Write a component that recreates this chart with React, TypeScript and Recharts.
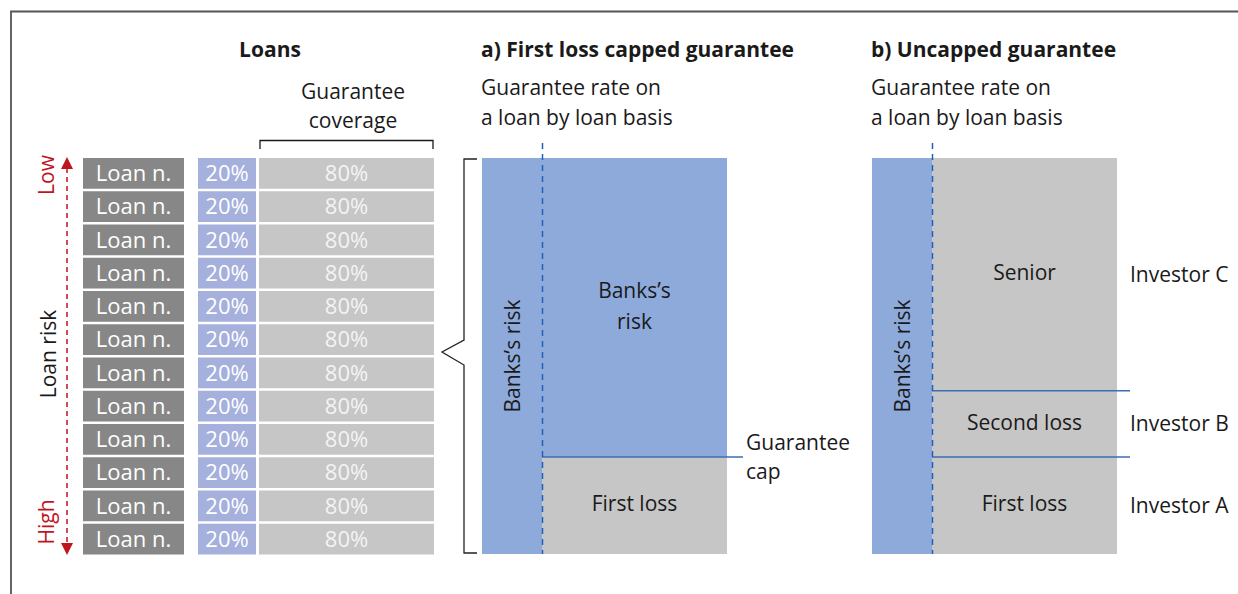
import React from 'react';
import { BarChart, Bar, XAxis, YAxis, LabelList, ReferenceLine } from 'recharts';

const FONT = '"Open Sans", "Noto Sans", sans-serif';
const FS = 21;
const FS_ROW = 22;

// ---- data ----
const loanIds = ['L01', 'L02', 'L03', 'L04', 'L05', 'L06', 'L07', 'L08', 'L09', 'L10', 'L11', 'L12'];
const loanLabels = ['Loan n.', 'Loan n.', 'Loan n.', 'Loan n.', 'Loan n.', 'Loan n.', 'Loan n.', 'Loan n.', 'Loan n.', 'Loan n.', 'Loan n.', 'Loan n.'];
const bankShare = [20, 20, 20, 20, 20, 20, 20, 20, 20, 20, 20, 20];
const guaranteeShare = [80, 80, 80, 80, 80, 80, 80, 80, 80, 80, 80, 80];

const bankColumnLabel = 'Banks’s risk';
const bankColumnValue = 100;

const trancheANames = ['First loss', 'Banks’s\nrisk'];
const trancheAValues = [24.5, 75.5];
const capLabel = 'Guarantee\ncap';

const trancheBNames = ['First loss', 'Second loss', 'Senior'];
const trancheBValues = [24.5, 16.7, 58.8];
const investorNames = ['Investor A', 'Investor B', 'Investor C'];

// ---- colours ----
const C_LOAN = '#878787';
const C_BANK20 = '#a5b0dc';
const C_GREY = '#c6c6c6';
const C_BLUE = '#8eaadb';
const C_LINE = '#3d6db4';
const C_DASH = '#2160b8';
const C_RED = '#c0141e';
const C_TEXT = '#1a1a1a';

const loanData = loanIds.map((id, i) => ({
  id,
  label: loanLabels[i],
  bank: bankShare[i],
  guar: guaranteeShare[i],
  total: bankShare[i] + guaranteeShare[i],
}));

const bankData = [{ name: 'bank', value: bankColumnValue, label: bankColumnLabel }];
const panelAData = [{ name: 'a', t0: trancheAValues[0], t1: trancheAValues[1], n0: trancheANames[0], n1: trancheANames[1] }];
const panelBData = [{
  name: 'b',
  t0: trancheBValues[0], t1: trancheBValues[1], t2: trancheBValues[2],
  n0: trancheBNames[0], n1: trancheBNames[1], n2: trancheBNames[2],
  i0: investorNames[0], i1: investorNames[1], i2: investorNames[2],
}];

const ROW_TOP = 156.75;
const ROW_H = 399;
const BAR_H = 30.75;
const COL_TOP = 158;
const COL_H = 396;

const MultiLine = (props: any) => {
  const vb = props.viewBox ?? props;
  const { x, y, width, height } = vb;
  const lines = String(props.value).split('\n');
  const cx = x + width / 2;
  const cy = y + height / 2 - 2;
  const lh = 31;
  return (
    <text x={cx} y={cy - ((lines.length - 1) * lh) / 2} textAnchor="middle" dominantBaseline="central"
      fontFamily={FONT} fontSize={FS} fill={C_TEXT}>
      {lines.map((l, i) => (
        <tspan key={i} x={cx} dy={i === 0 ? 0 : lh}>{l}</tspan>
      ))}
    </text>
  );
};

const Rotated = (props: any) => {
  const vb = props.viewBox ?? props;
  const { x, y, width, height } = vb;
  const cx = x + width / 2;
  const cy = y + height / 2;
  return (
    <text x={cx} y={cy} textAnchor="middle" dominantBaseline="central" transform={`rotate(-90, ${cx}, ${cy})`}
      fontFamily={FONT} fontSize={FS} fill={C_TEXT}>
      {props.value}
    </text>
  );
};

const CapLabel = (props: any) => {
  const vb = props.viewBox;
  const x = vb.x + vb.width + 3;
  const y = vb.y;
  const lines = capLabel.split('\n');
  return (
    <text x={x} y={y - 15} dominantBaseline="central" fontFamily={FONT} fontSize={FS} fill={C_TEXT}>
      {lines.map((l, i) => (
        <tspan key={i} x={x} dy={i === 0 ? 0 : 29}>{l}</tspan>
      ))}
    </text>
  );
};

const abs = (left: number, top: number): React.CSSProperties => ({ position: 'absolute', left, top });
const M0 = { top: 0, right: 0, bottom: 0, left: 0 };

function LoanColumn({ left, width, dataKey, max, fill, labelKey, fmt, labelFill }: any) {
  return (
    <div style={abs(left, ROW_TOP)}>
      <BarChart layout="vertical" width={width} height={ROW_H} data={loanData} margin={M0}>
        <XAxis type="number" domain={[0, max]} hide />
        <YAxis type="category" dataKey="id" hide />
        <Bar dataKey={dataKey} fill={fill} barSize={BAR_H} isAnimationActive={false}>
          <LabelList dataKey={labelKey} position="center" fill={labelFill} fontSize={FS_ROW} fontFamily={FONT} formatter={fmt} />
        </Bar>
      </BarChart>
    </div>
  );
}

function BankColumn({ left }: { left: number }) {
  return (
    <div style={abs(left, COL_TOP)}>
      <BarChart width={60} height={COL_H} data={bankData} margin={M0} barCategoryGap={0}>
        <XAxis dataKey="name" hide />
        <YAxis domain={[0, 100]} hide />
        <Bar dataKey="value" fill={C_BLUE} isAnimationActive={false}>
          <LabelList dataKey="label" content={Rotated} />
        </Bar>
      </BarChart>
    </div>
  );
}

export default function App() {
  return (
    <div style={{ position: 'absolute', left: 0, top: 0, width: 1238, height: 594, background: '#fff', overflow: 'hidden' }}>
      {/* Loans table */}
      <LoanColumn left={83} width={101} dataKey="total" max={100} fill={C_LOAN} labelKey="label" labelFill="#ffffff" />
      <LoanColumn left={198} width={58} dataKey="bank" max={20} fill={C_BANK20} labelKey="bank" labelFill="#ffffff" fmt={(v: any) => `${v}%`} />
      <LoanColumn left={259} width={175} dataKey="guar" max={80} fill={C_GREY} labelKey="guar" labelFill="#f4f4f4" fmt={(v: any) => `${v}%`} />

      {/* Panel a */}
      <BankColumn left={482} />
      <div style={abs(542, COL_TOP)}>
        <BarChart width={318} height={COL_H} data={panelAData} margin={{ top: 0, right: 117, bottom: 0, left: 0 }} barCategoryGap={0}>
          <XAxis dataKey="name" hide padding={{ left: 0, right: 16 }} />
          <YAxis domain={[0, 100]} hide />
          <Bar dataKey="t0" stackId="s" fill={C_GREY} isAnimationActive={false}>
            <LabelList dataKey="n0" content={MultiLine} />
          </Bar>
          <Bar dataKey="t1" stackId="s" fill={C_BLUE} isAnimationActive={false}>
            <LabelList dataKey="n1" content={MultiLine} />
          </Bar>
          <ReferenceLine y={trancheAValues[0]} stroke={C_LINE} strokeWidth={1.5} label={CapLabel} />
        </BarChart>
      </div>

      {/* Panel b */}
      <BankColumn left={872} />
      <div style={abs(932, COL_TOP)}>
        <BarChart width={306} height={COL_H} data={panelBData} margin={{ top: 0, right: 108, bottom: 0, left: 0 }} barCategoryGap={0}>
          <XAxis dataKey="name" hide padding={{ left: 0, right: 13 }} />
          <YAxis domain={[0, 100]} hide />
          <Bar dataKey="t0" stackId="s" fill={C_GREY} isAnimationActive={false}>
            <LabelList dataKey="n0" content={MultiLine} />
            <LabelList dataKey="i0" position="right" offset={13} fill={C_TEXT} fontSize={FS} fontFamily={FONT} />
          </Bar>
          <Bar dataKey="t1" stackId="s" fill={C_GREY} isAnimationActive={false}>
            <LabelList dataKey="n1" content={MultiLine} />
            <LabelList dataKey="i1" position="right" offset={13} fill={C_TEXT} fontSize={FS} fontFamily={FONT} />
          </Bar>
          <Bar dataKey="t2" stackId="s" fill={C_GREY} isAnimationActive={false}>
            <LabelList dataKey="n2" content={MultiLine} />
            <LabelList dataKey="i2" position="right" offset={13} fill={C_TEXT} fontSize={FS} fontFamily={FONT} />
          </Bar>
          <ReferenceLine y={trancheBValues[0]} stroke={C_LINE} strokeWidth={1.5} />
          <ReferenceLine y={trancheBValues[0] + trancheBValues[1]} stroke={C_LINE} strokeWidth={1.5} />
        </BarChart>
      </div>

      {/* annotations */}
      <svg width={1238} height={594} style={{ position: 'absolute', left: 0, top: 0, pointerEvents: 'none' }}
        fontFamily={FONT}>
        <path d="M 11 594 L 11 11.5 L 1238 11.5" fill="none" stroke="#555" strokeWidth={1.8} />

        <text x={270} y={57} textAnchor="middle" fontSize={FS} fontWeight={700} fill={C_TEXT}>Loans</text>
        <text x={353} y={99} textAnchor="middle" fontSize={FS} fill={C_TEXT}>Guarantee</text>
        <text x={353} y={128} textAnchor="middle" fontSize={FS} fill={C_TEXT}>coverage</text>
        <path d="M 260 149 L 260 140.5 L 433 140.5 L 433 149" fill="none" stroke={C_TEXT} strokeWidth={1.3} />

        {/* loan risk axis */}
        <line x1={67} y1={168} x2={67} y2={543} stroke={C_RED} strokeWidth={1.5} strokeDasharray="5 4" />
        <polygon points="67,157 61,169 73,169" fill={C_RED} />
        <polygon points="67,555 61,543 73,543" fill={C_RED} />
        <text x={46} y={175} textAnchor="middle" dominantBaseline="central" transform="rotate(-90, 46, 175)" fontSize={FS} fill={C_RED}>Low</text>
        <text x={46} y={522} textAnchor="middle" dominantBaseline="central" transform="rotate(-90, 46, 522)" fontSize={FS} fill={C_RED}>High</text>
        <text x={48} y={354} textAnchor="middle" dominantBaseline="central" transform="rotate(-90, 48, 354)" fontSize={FS} fill={C_TEXT}>Loan risk</text>

        {/* brace */}
        <path d="M 477 159 L 464 159 L 464 340 L 442 352 L 464 365 L 464 553 L 477 553" fill="none" stroke="#222" strokeWidth={1.3} />

        {/* panel a headings */}
        <text x={481} y={57} fontSize={FS} fontWeight={700} fill={C_TEXT}>a) First loss capped guarantee</text>
        <text x={481} y={95} fontSize={FS} fill={C_TEXT}>Guarantee rate on</text>
        <text x={481} y={125} fontSize={FS} fill={C_TEXT}>a loan by loan basis</text>
        <line x1={542.5} y1={143} x2={542.5} y2={554} stroke={C_DASH} strokeWidth={1.5} strokeDasharray="6 5" />

        {/* panel b headings */}
        <text x={871} y={57} fontSize={FS} fontWeight={700} fill={C_TEXT}>b) Uncapped guarantee</text>
        <text x={871} y={95} fontSize={FS} fill={C_TEXT}>Guarantee rate on</text>
        <text x={871} y={125} fontSize={FS} fill={C_TEXT}>a loan by loan basis</text>
        <line x1={932.5} y1={143} x2={932.5} y2={554} stroke={C_DASH} strokeWidth={1.5} strokeDasharray="6 5" />
      </svg>
    </div>
  );
}
